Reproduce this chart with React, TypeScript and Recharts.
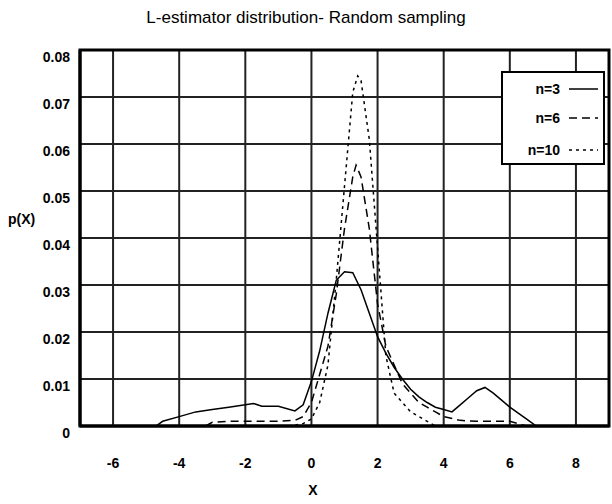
import { LineChart, Line, XAxis, YAxis, CartesianGrid, ReferenceArea } from "recharts"

const xTicks = [-6, -4, -2, 0, 2, 4, 6, 8]
const yTicks = [0, 0.01, 0.02, 0.03, 0.04, 0.05, 0.06, 0.07, 0.08]

// n=3
const n3X = [-4.7, -4.5, -4, -3.5, -3, -2.5, -2, -1.75, -1.5, -1, -0.5, -0.25, 0, 0.25, 0.5, 0.75, 1, 1.25, 1.5, 1.75, 2, 2.25, 2.5, 2.75, 3, 3.25, 3.5, 3.75, 4, 4.25, 4.5, 4.75, 5, 5.25, 5.5, 5.75, 6, 6.5, 6.8]
const n3Y = [0, 0.001, 0.002, 0.003, 0.0035, 0.004, 0.0045, 0.0048, 0.0042, 0.0042, 0.0032, 0.0045, 0.0095, 0.016, 0.024, 0.031, 0.0328, 0.0326, 0.029, 0.024, 0.019, 0.0155, 0.0125, 0.01, 0.0078, 0.0062, 0.005, 0.004, 0.0035, 0.003, 0.0045, 0.006, 0.0075, 0.0082, 0.007, 0.0055, 0.004, 0.0015, 0]

// n=6
const n6X = [-3.2, -3, -2.5, -2, -1.5, -1, -0.5, -0.25, 0, 0.25, 0.5, 0.75, 1, 1.25, 1.35, 1.5, 1.75, 2, 2.25, 2.5, 2.75, 3, 3.25, 3.5, 3.75, 4, 4.5, 5, 5.5, 6, 6.5]
const n6Y = [0, 0.0008, 0.001, 0.001, 0.001, 0.001, 0.0012, 0.002, 0.005, 0.011, 0.017, 0.028, 0.042, 0.053, 0.0555, 0.053, 0.042, 0.026, 0.017, 0.013, 0.009, 0.007, 0.005, 0.004, 0.003, 0.002, 0.0012, 0.001, 0.001, 0.001, 0]

// n=10
const n10X = [-0.7, -0.25, 0, 0.25, 0.5, 0.75, 1, 1.25, 1.4, 1.5, 1.75, 2, 2.25, 2.5, 2.75, 3, 3.25, 3.5, 3.75]
const n10Y = [0, 0.0005, 0.0015, 0.005, 0.013, 0.031, 0.051, 0.071, 0.0745, 0.0735, 0.061, 0.038, 0.015, 0.007, 0.005, 0.003, 0.002, 0.001, 0]

const toPoints = (xs: number[], ys: number[]) => xs.map((x, i) => ({ x, y: ys[i] }))

const series = [
  { name: "n=3", data: toPoints(n3X, n3Y), dash: undefined as string | undefined },
  { name: "n=6", data: toPoints(n6X, n6Y), dash: "8 5" },
  { name: "n=10", data: toPoints(n10X, n10Y), dash: "3 4" },
]

const font = "'Liberation Sans', Arial, sans-serif"

const XTick = (props: any) => (
  <text x={props.x} y={468} textAnchor="middle" fontSize={14} fontWeight="bold" fontFamily={font} fill="#000">
    {props.payload.value}
  </text>
)

const YTick = (props: any) => (
  <text x={70} y={props.y + 12} textAnchor="end" fontSize={14} fontWeight="bold" fontFamily={font} fill="#000">
    {props.payload.value}
  </text>
)

// legend box drawn over the plot, top right
const LegendBox = () => (
  <svg width={104} height={94} style={{ position: "absolute", left: 501, top: 71, display: "block" }}>
    <rect x={1} y={1} width={102} height={92} fill="#fff" stroke="#000" strokeWidth={2} />
    {series.map((s, i) => {
      const cy = [18, 47, 79][i]
      return (
        <g key={s.name}>
          <text x={59} y={cy + 5} textAnchor="end" fontSize={14} fontWeight="bold" fontFamily={font} fill="#000">
            {s.name}
          </text>
          <line x1={68} x2={97} y1={cy} y2={cy} stroke="#000" strokeWidth={1.5} strokeDasharray={s.dash} />
        </g>
      )
    })}
  </svg>
)

export default function App() {
  return (
    <div style={{ position: "absolute", left: 0, top: 0, width: 612, height: 504, fontFamily: font, background: "#fff" }}>
      <div style={{ position: "absolute", left: 0, top: 8, width: 612, textAlign: "center", fontSize: 17, lineHeight: "20px" }}>
        L-estimator distribution- Random sampling
      </div>
      <div style={{ position: "absolute", left: 8, top: 210, fontSize: 14, fontWeight: "bold", lineHeight: "18px" }}>
        p(X)
      </div>
      <div style={{ position: "absolute", left: 0, top: 481, width: 626, textAlign: "center", fontSize: 14, fontWeight: "bold", lineHeight: "18px" }}>
        X
      </div>
      <LineChart width={612} height={504} margin={{ top: 50, right: 3, bottom: 48, left: 0 }}>
        <CartesianGrid stroke="#222" strokeWidth={2} />
        <XAxis
          type="number"
          dataKey="x"
          domain={[-7, 9]}
          ticks={xTicks}
          allowDataOverflow
          height={30}
          tickLine={false}
          axisLine={{ stroke: "#000", strokeWidth: 3 }}
          tick={XTick}
        />
        <YAxis
          type="number"
          dataKey="y"
          domain={[0, 0.08]}
          ticks={yTicks}
          allowDataOverflow
          width={80}
          tickLine={false}
          axisLine={{ stroke: "#000", strokeWidth: 3 }}
          tick={YTick}
        />
        <ReferenceArea x1={-7} x2={9} y1={0} y2={0.08} fill="none" stroke="#000" strokeWidth={3} ifOverflow="visible" />
        {series.map((s) => (
          <Line
            key={s.name}
            data={s.data}
            dataKey="y"
            name={s.name}
            stroke="#000"
            strokeWidth={1.5}
            strokeDasharray={s.dash}
            dot={false}
            activeDot={false}
            isAnimationActive={false}
          />
        ))}
      </LineChart>
      <LegendBox />
    </div>
  )
}
